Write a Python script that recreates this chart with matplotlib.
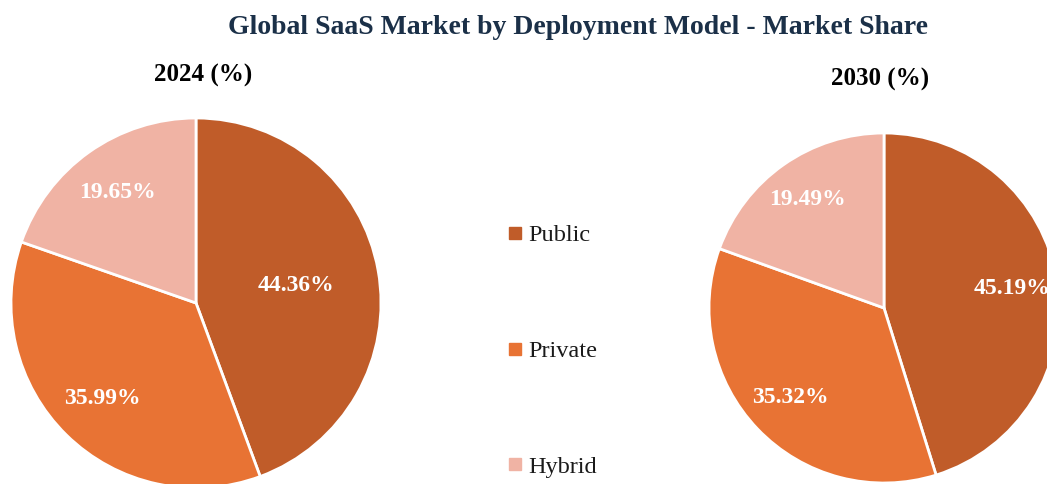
import matplotlib.pyplot as plt
from matplotlib.lines import Line2D
import numpy as np

plt.rcParams['font.family'] = ['Liberation Serif', 'DejaVu Serif']

models = ['Public', 'Private', 'Hybrid']
share_2024 = [44.36, 35.99, 19.65]
share_2030 = [45.19, 35.32, 19.49]
colors = ['#C05C29', '#E87334', '#F0B3A4']

W, H = 1047, 484
fig = plt.figure(figsize=(W / 100, H / 100), dpi=100)


def px_axes(cx, cy, r):
    # axes square placed in pixel coords (y measured from top)
    return fig.add_axes([(cx - r) / W, (H - cy - r) / H, 2 * r / W, 2 * r / H])


def drawPie(ax, values, label_dist):
    wedges, _ = ax.pie(values, colors=colors, startangle=90, counterclock=False,
                       radius=1, wedgeprops=dict(edgecolor='white', linewidth=2))
    for w, v, d in zip(wedges, values, label_dist):
        ang = np.deg2rad((w.theta1 + w.theta2) / 2)
        ax.text(d * np.cos(ang), d * np.sin(ang), f'{v:.2f}%', color='white',
                fontsize=17, fontweight='bold', ha='center', va='center')
    ax.set_xlim(-1, 1)
    ax.set_ylim(-1, 1)
    ax.set_aspect('equal')
    ax.axis('off')
    return wedges


ax1 = px_axes(196, 303, 185)
drawPie(ax1, share_2024, [0.55, 0.72, 0.735])
ax2 = px_axes(884, 308, 175)
drawPie(ax2, share_2030, [0.74, 0.74, 0.76])

fig.text(578 / W, 1 - 28 / H, 'Global SaaS Market by Deployment Model - Market Share',
         ha='center', va='center', fontsize=20, fontweight='bold', color='#1B3048')
fig.text(203 / W, 1 - 75 / H, '2024 (%)', ha='center', va='center',
         fontsize=18, fontweight='bold', color='black')
fig.text(880 / W, 1 - 79 / H, '2030 (%)', ha='center', va='center',
         fontsize=18, fontweight='bold', color='black')

handles = [Line2D([], [], marker='s', linestyle='', color=c, markersize=8) for c in colors]
fig.legend(handles, models, loc='center left', bbox_to_anchor=(508 / W, 1 - 351 / H),
           frameon=False, fontsize=17.5, handlelength=0.6, handletextpad=0.23,
           labelspacing=3.85, borderpad=0, borderaxespad=0, labelcolor='#1a1a1a')

fig.savefig('out.png', dpi=100)
